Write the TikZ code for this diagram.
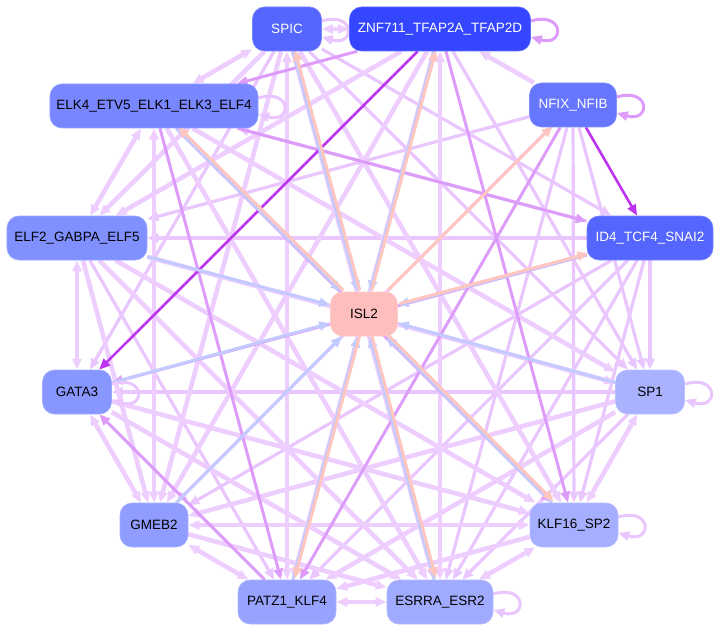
\documentclass[tikz,border=0pt]{standalone}
\usepackage{fontspec}
\setmainfont{Liberation Sans}
\usetikzlibrary{arrows.meta}
\pgfdeclarelayer{bg}
\pgfsetlayers{bg,main}
\definecolor{cS}{RGB}{85,102,255}
\definecolor{cZ}{RGB}{52,70,255}
\definecolor{cEfour}{RGB}{120,134,255}
\definecolor{cN}{RGB}{102,118,255}
\definecolor{cEtwo}{RGB}{128,144,255}
\definecolor{cI}{RGB}{85,102,255}
\definecolor{cL}{RGB}{255,190,190}
\definecolor{cG}{RGB}{136,150,255}
\definecolor{cPone}{RGB}{170,178,255}
\definecolor{cGM}{RGB}{144,156,255}
\definecolor{cK}{RGB}{166,174,255}
\definecolor{cPZ}{RGB}{152,162,255}
\definecolor{cES}{RGB}{160,170,255}
\definecolor{cLone}{RGB}{238,206,255}
\definecolor{cLtwo}{RGB}{234,198,255}
\definecolor{cM}{RGB}{222,156,250}
\definecolor{cD}{RGB}{188,52,240}
\definecolor{cPk}{RGB}{255,198,192}
\definecolor{cBl}{RGB}{194,202,255}
\begin{document}
\begin{tikzpicture}[x=1bp,y=1bp,
  >={Triangle[length=11bp,width=9bp]},
  nd/.style={rounded corners=12bp, minimum height=44bp, inner sep=0pt,
    font=\fontsize{13.5bp}{16bp}\selectfont, draw=#1!80!white, fill=#1, line width=0.6bp},
  Lone/.style={draw=cLone, line width=4.6bp, ->},
  Loneb/.style={draw=cLone, line width=4.6bp, <->},
  Ltwo/.style={draw=cLtwo, line width=3.2bp, ->},
  Med/.style={draw=cM, line width=3bp, ->},
  Dk/.style={draw=cD, line width=2.6bp, ->},
  Pk/.style={draw=cPk, line width=3bp, ->},
  Bl/.style={draw=cBl, line width=3bp, ->},
  lpl/.style={draw=cLtwo, line width=3bp, ->},
  lpm/.style={draw=cM, line width=3bp, ->}]
\useasboundingbox (0,0) rectangle (721,-632);
\node[nd=cS, text=white, minimum width=69bp] (S) at (287,-29) {SPIC};
\node[nd=cZ, text=white, minimum width=181bp] (Z) at (440,-29) {ZNF711\_TFAP2A\_TFAP2D};
\node[nd=cEfour, minimum width=208bp] (E4) at (154,-106) {ELK4\_ETV5\_ELK1\_ELK3\_ELF4};
\node[nd=cN, text=white, minimum width=87bp] (N) at (573,-105) {NFIX\_NFIB};
\node[nd=cEtwo, minimum width=140bp] (E2) at (77,-238) {ELF2\_GABPA\_ELF5};
\node[nd=cI, text=white, minimum width=126bp] (I) at (650,-238) {ID4\_TCF4\_SNAI2};
\node[nd=cL, minimum width=67bp] (L) at (364,-314) {ISL2};
\node[nd=cG, minimum width=69bp] (G) at (77,-392) {GATA3};
\node[nd=cPone, minimum width=69bp] (P1) at (650,-392) {SP1};
\node[nd=cGM, minimum width=68bp] (GM) at (154,-525) {GMEB2};
\node[nd=cK, minimum width=88bp] (K) at (574,-525) {KLF16\_SP2};
\node[nd=cPZ, minimum width=98bp] (PZ) at (287,-602) {PATZ1\_KLF4};
\node[nd=cES, minimum width=106bp] (ES) at (440,-602) {ESRRA\_ESR2};
\begin{pgfonlayer}{bg}
\foreach \a/\b in {N/K,I/E2,P1/G,S/G,S/P1,S/I,Z/P1,N/E2,I/E4,N/GM,N/ES,N/P1,E2/PZ,I/GM,I/PZ,I/ES,I/K,P1/ES,I/P1}
  \draw[Ltwo] (\a) -- (\b);
\foreach \a/\b in {S/E2,S/GM,S/K,S/ES,Z/PZ,Z/GM,Z/E2,E4/P1,E4/ES,E2/P1,E2/K,E2/GM,E2/ES,G/K,G/ES,P1/GM,P1/PZ,GM/ES,K/PZ,N/Z}
  \draw[Lone] (\a) -- (\b);
\foreach \a/\b in {S/E4,E4/E2,E4/GM,E2/G,G/GM,GM/PZ,PZ/ES,ES/K,K/P1,S/PZ,Z/ES,GM/K,S/Z}
  \draw[Loneb] (\a) -- (\b);
\foreach \a/\b in {Z/E4,Z/K,E4/I,E4/K,E4/PZ,N/PZ,I/G,PZ/G}
  \draw[Med] (\a) -- (\b);
\foreach \a/\b in {N/I,Z/G}
  \draw[Dk] (\a) -- (\b);
\foreach \a in {S,Z,E4,E2,I,P1,G,GM,PZ,ES,K}
  \draw[Bl] (\a) -- (L);
\foreach \b in {S,Z,E4,N,I,PZ,ES,K}
  \draw[Pk, transform canvas={xshift=1.8bp,yshift=1.4bp}] (L) -- (\b);
\foreach \n in {S,E4,G,P1,K,ES}
  \draw[lpl] ([yshift=8bp]\n.east) .. controls +(34bp,10bp) and +(34bp,-10bp) .. ([yshift=-8bp]\n.east);
\foreach \n in {Z,N}
  \draw[lpm] ([yshift=8bp]\n.east) .. controls +(34bp,10bp) and +(34bp,-10bp) .. ([yshift=-8bp]\n.east);
\end{pgfonlayer}
\end{tikzpicture}
\end{document}
